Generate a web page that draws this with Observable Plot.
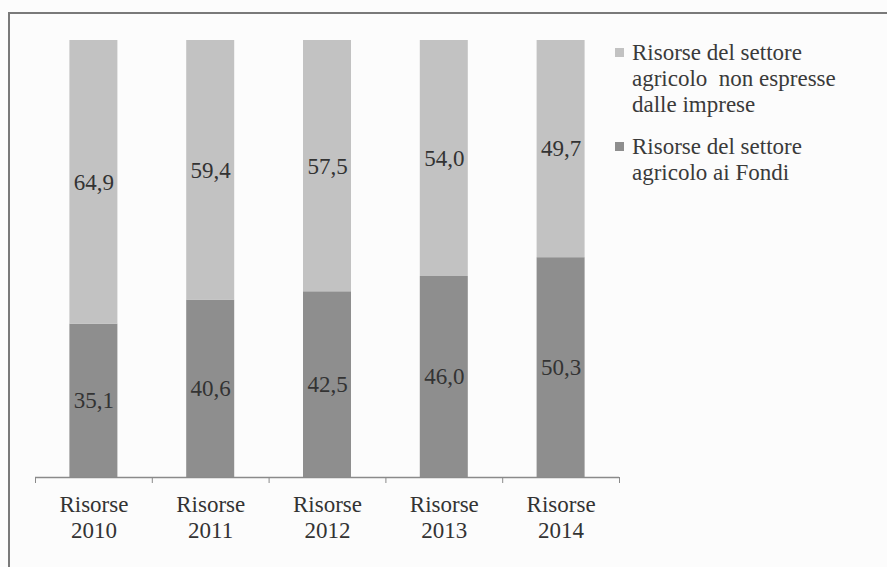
<!DOCTYPE html>
<html>
<head>
<meta charset="utf-8">
<script src="https://cdn.jsdelivr.net/npm/d3@7"></script>
<script src="https://cdn.jsdelivr.net/npm/@observablehq/plot@0.6"></script>
<style>
  html, body { margin: 0; padding: 0; background: #ffffff; }
  #chart {
    position: relative; width: 887px; height: 567px; overflow: hidden;
    font-family: "Liberation Serif", "Times New Roman", serif; color: #333;
    background: #fcfcfc;
  }
  #frame {
    position: absolute; left: 8px; top: 12px; right: -4px; bottom: -4px;
    border-top: 2px solid #7a7a7a; border-left: 2px solid #7a7a7a;
    pointer-events: none;
  }
  #chart svg { position: absolute; left: 0; top: 0; }
  #chart svg text { font-family: "Liberation Serif", "Times New Roman", serif; }
  #legend { position: absolute; left: 615px; top: 40px; font-size: 23px; line-height: 26px; color: #3a3a3a; }
  .item { display: flex; align-items: flex-start; margin-bottom: 16px; }
  .swatch { width: 9px; height: 9px; margin-top: 8px; margin-right: 8px; flex: none; }
  .label { white-space: pre; }
</style>
</head>
<body>
<div id="chart"><div id="frame"></div><div id="legend"></div></div>
<script>
// Categories and the two shares (percent) of each year's total
const years = ["2010", "2011", "2012", "2013", "2014"];
const tickLabels = ["Risorse\n2010", "Risorse\n2011", "Risorse\n2012", "Risorse\n2013", "Risorse\n2014"];
const fondi = [35.1, 40.6, 42.5, 46.0, 50.3];
const nonEspresse = [64.9, 59.4, 57.5, 54.0, 49.7];
const seriesNames = ["Risorse del settore agricolo ai Fondi", "Risorse del settore agricolo non espresse dalle imprese"];
const legendLabels = ["Risorse del settore\nagricolo  non espresse\ndalle imprese", "Risorse del settore\nagricolo ai Fondi"];
const colors = ["#8e8e8e", "#c2c2c2"];

// Stack: "Fondi" at the bottom, "non espresse" on top
const rows = [];
years.forEach((year, i) => {
  const vals = [fondi[i], nonEspresse[i]];
  let base = 0;
  vals.forEach((v, s) => {
    rows.push({i, year, series: seriesNames[s], value: v, y1: base, y2: base + v});
    base += v;
  });
});

const fmt = v => v.toFixed(1).replace(".", ",");
const serif = "'Liberation Serif', 'Times New Roman', serif";

const plot = Plot.plot({
  width: 887,
  height: 567,
  marginLeft: 35,
  marginRight: 268,
  marginTop: 40,
  marginBottom: 90,
  style: {background: "transparent", fontFamily: serif, color: "#333"},
  x: {type: "linear", domain: [0, years.length]},
  y: {domain: [0, 100], axis: null},
  color: {domain: seriesNames, range: colors},
  marks: [
    Plot.rect(rows, {
      x1: d => d.i, x2: d => d.i + 1, y1: "y1", y2: "y2",
      fill: "series", insetLeft: 34.4, insetRight: 34.4
    }),
    Plot.text(rows, {
      x: d => d.i + 0.5, y: d => (d.y1 + d.y2) / 2,
      text: d => fmt(d.value), fontSize: 23, fill: "#333"
    }),
    Plot.ruleY([0], {stroke: "#8a8a8a", strokeWidth: 1.5}),
    // category boundary tick marks
    Plot.axisX(d3.range(0, years.length + 1), {
      tickSize: 6, tickFormat: () => "", stroke: "#8a8a8a"
    }),
    // two-line category labels centred under each bar
    Plot.axisX(d3.range(years.length).map(i => i + 0.5), {
      tickSize: 0, tickPadding: 16, fontSize: 23, lineHeight: 1.13,
      tickFormat: v => tickLabels[Math.floor(v)], fill: "#333"
    })
  ]
});
document.getElementById("chart").insertBefore(plot, document.getElementById("frame"));

// Legend: light series first, then dark
const legend = document.getElementById("legend");
[[legendLabels[0], colors[1]], [legendLabels[1], colors[0]]].forEach(([text, color]) => {
  const item = document.createElement("div");
  item.className = "item";
  const sw = document.createElement("div");
  sw.className = "swatch";
  sw.style.background = color;
  const lb = document.createElement("div");
  lb.className = "label";
  lb.textContent = text;
  item.append(sw, lb);
  legend.append(item);
});
</script>
</body>
</html>
